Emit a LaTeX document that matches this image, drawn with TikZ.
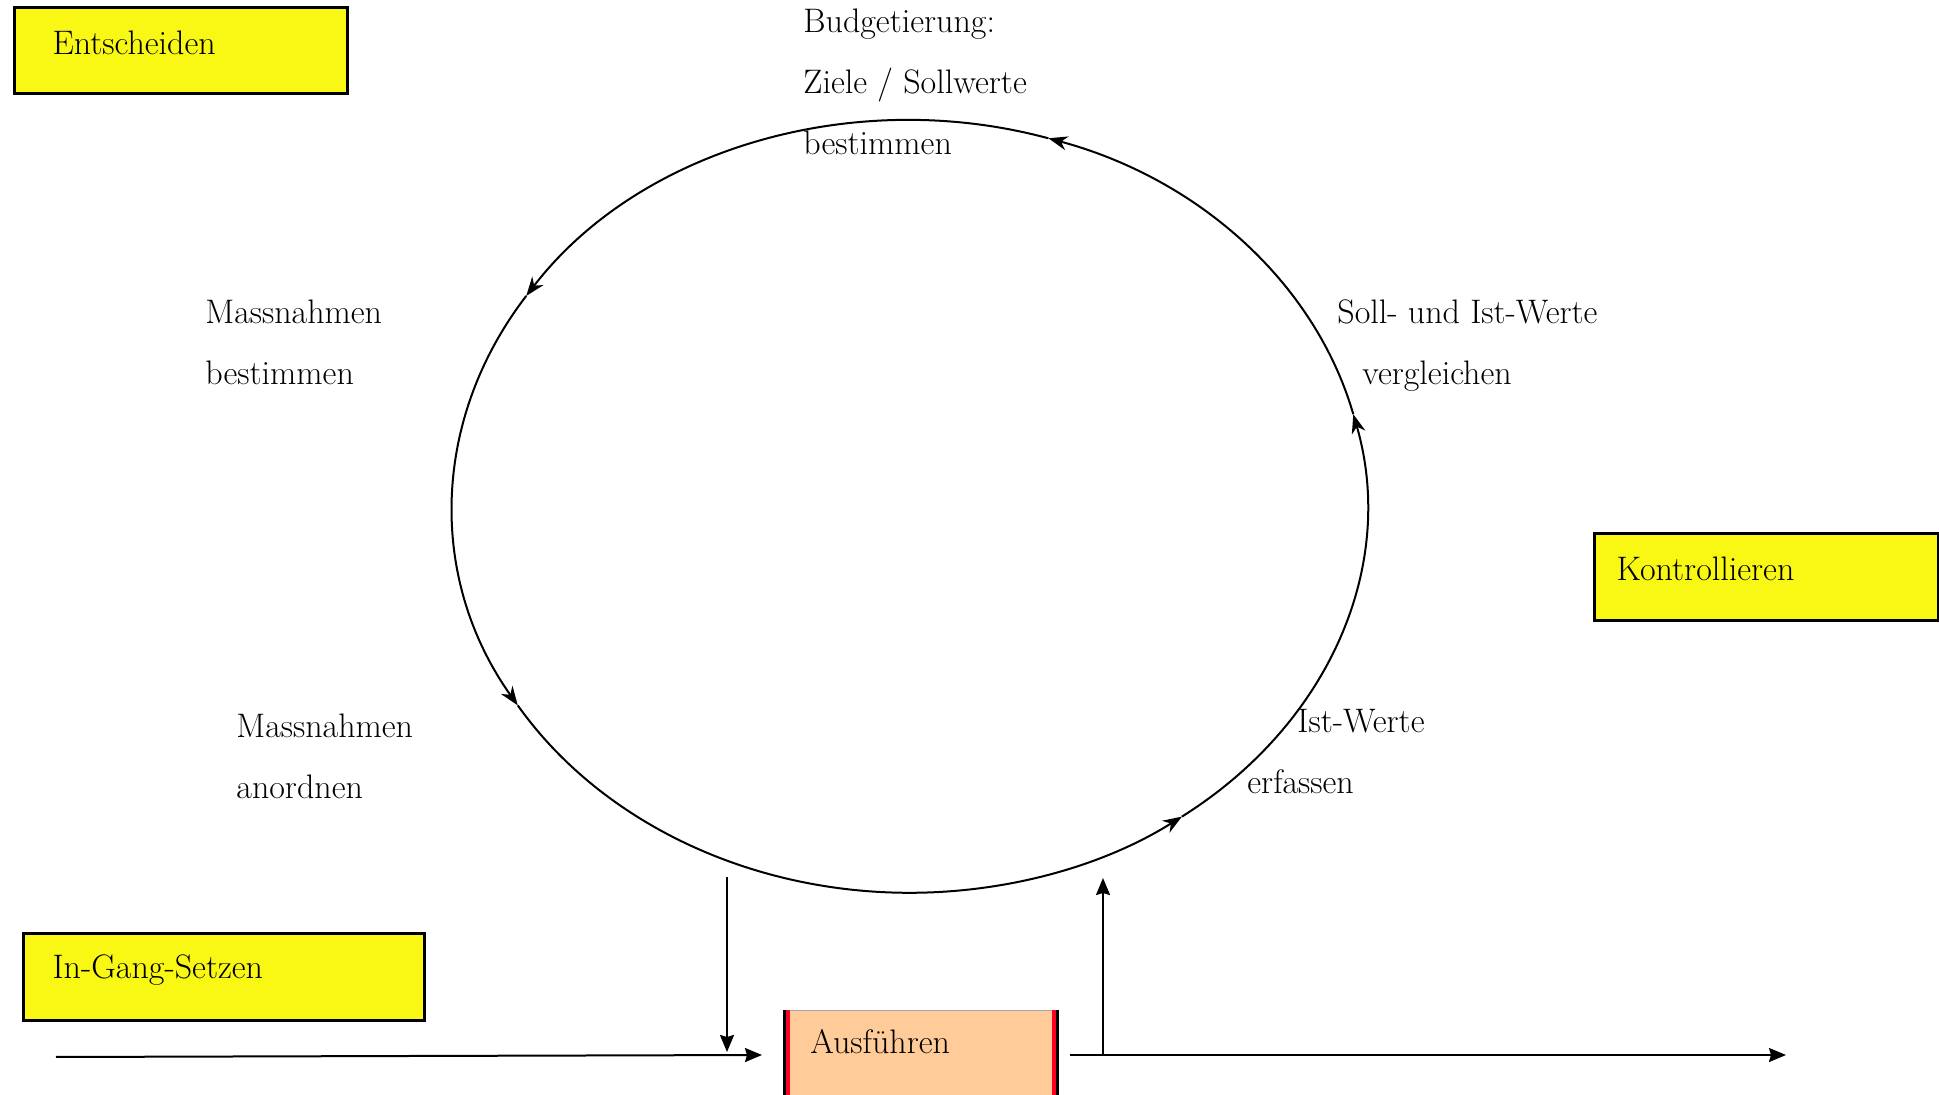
\documentclass[tikz,border=0pt]{standalone}
\usetikzlibrary{arrows.meta}
\definecolor{boxyellow}{RGB}{249,247,20}
\definecolor{peach}{RGB}{255,204,153}
\definecolor{edgered}{RGB}{255,0,34}
\begin{document}
\begin{tikzpicture}[x=0.5pt,y=-0.5pt,
  txt/.style={font=\fontsize{17}{30.5}\selectfont, inner sep=0pt, anchor=base west},
  phase/.style={draw, line width=1.5pt, fill=boxyellow, anchor=north west, inner ysep=0pt, align=left, font=\fontsize{17}{20}\selectfont},
  cyc/.style={line width=1pt, -{Stealth[length=9.5pt,width=7pt,inset=3pt]}},
  flow/.style={line width=1pt, -{Stealth[length=8.5pt,width=7pt,inset=1pt]}}]
\useasboundingbox (0,0) rectangle (1939,1095);
\clip (0,0) rectangle (1939,1095);

% phases
\node[phase, inner xsep=19pt, text width=128.5pt, text height=23.5pt, text depth=19.5pt] (entsch) at (13,6) {Entscheiden};
\node[phase, inner xsep=11pt, text width=150pt, text height=23.5pt, text depth=20pt] (kontr) at (1593,532) {Kontrollieren};
\node[phase, inner xsep=14.5pt, text width=171.5pt, text height=22.5pt, text depth=21pt] (gang) at (22,932) {In-Gang-Setzen};

% Ausfuehren
\node[fill=peach, anchor=north west, inner xsep=13.5pt, inner ysep=0pt, text width=110.5pt, text height=21.5pt, text depth=40pt, align=left, font=\fontsize{17}{20}\selectfont] (ausf) at (783,1010) {Ausführen};
\draw[gray!70, line width=0.5pt] (ausf.north west) -- (ausf.north east);
\draw[line width=1.5pt] ([xshift=0.75pt]ausf.north west) -- ([xshift=0.75pt]ausf.south west);
\draw[edgered, line width=2pt] ([xshift=2.5pt]ausf.north west) -- ([xshift=2.5pt]ausf.south west);
\draw[line width=1.5pt] ([xshift=-0.75pt]ausf.north east) -- ([xshift=-0.75pt]ausf.south east);
\draw[edgered, line width=2pt] ([xshift=-2.5pt]ausf.north east) -- ([xshift=-2.5pt]ausf.south east);

% control cycle
\coordinate (c) at (909.5,506.4);
\foreach \a/\b in {346.2/287.7, 287.7/213, 213/149, 149/53.4, 53.4/-13.8}
  \draw[cyc] (c) ++(\a:457 and 386.4) arc[start angle=\a, end angle=\b, x radius=457, y radius=386.4];

% labels
\node[txt] (budget) at (803,33) {\begin{tabular}[t]{@{}l@{}}Budgetierung:\\Ziele / Sollwerte\\bestimmen\end{tabular}};
\node[txt] (bestimm) at (205,324) {\begin{tabular}[t]{@{}l@{}}Massnahmen\\bestimmen\end{tabular}};
\node[txt] (anordn) at (236,738) {\begin{tabular}[t]{@{}l@{}}Massnahmen\\anordnen\end{tabular}};
\node[txt] (erfass) at (1247,733) {\begin{tabular}[t]{@{}l@{}}\hspace*{25pt}Ist-Werte\\erfassen\end{tabular}};
\node[txt] (vergl) at (1337,324) {\begin{tabular}[t]{@{}l@{}}Soll- und Ist-Werte\\\hspace*{12.5pt}vergleichen\end{tabular}};

% flows
\coordinate (instart) at (56,1057);
\coordinate (inend) at (762,1055);
\coordinate (ordtop) at (727,877);
\coordinate (ordend) at (727,1052);
\coordinate (outstart) at (1070,1055);
\coordinate (outend) at (1786,1055);
\coordinate (repbase) at (1103,1055);
\coordinate (reptop) at (1103,878);
\draw[flow] (instart) -- (inend);
\draw[flow] (ordtop) -- (ordend);
\draw[flow] (outstart) -- (outend);
\draw[flow] (repbase) -- (reptop);
\end{tikzpicture}
\end{document}
